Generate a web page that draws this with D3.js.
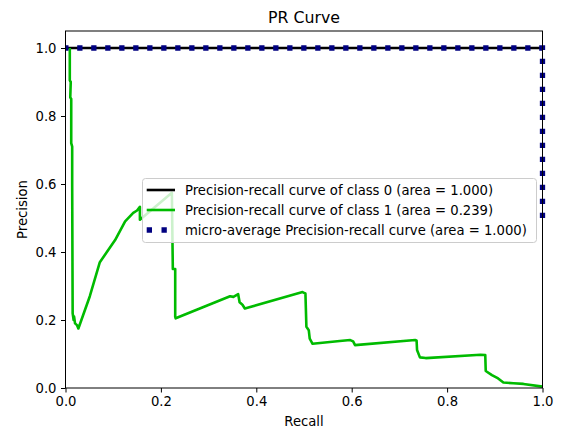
<!DOCTYPE html>
<html>
<head>
<meta charset="utf-8">
<script src="https://cdn.jsdelivr.net/npm/d3@7"></script>
<style>
  html, body { margin: 0; padding: 0; background: #fff; }
  svg { display: block; font-family: "DejaVu Sans", sans-serif; }
</style>
</head>
<body>
<svg id="chart" width="571" height="431"></svg>
<script>
// Precision-recall curves
const class0Recall    = [0.0, 1.0, 1.0];
const class0Precision = [1.0, 1.0, 0.996];

const class1Recall = [
  0.009, 0.009, 0.011, 0.010, 0.012, 0.012, 0.014, 0.014, 0.015, 0.017,
  0.018, 0.020, 0.024, 0.027, 0.051, 0.072, 0.104, 0.125, 0.142, 0.150,
  0.156, 0.156, 0.223, 0.225, 0.230, 0.230, 0.231, 0.345, 0.352, 0.362,
  0.365, 0.371, 0.376, 0.497, 0.500, 0.503, 0.505, 0.510, 0.512, 0.518,
  0.575, 0.597, 0.603, 0.607, 0.733, 0.736, 0.737, 0.743, 0.755, 0.870,
  0.880, 0.881, 0.894, 0.907, 0.918, 0.939, 0.960, 1.000
];
const class1Precision = [
  1.000, 0.905, 0.900, 0.855, 0.850, 0.720, 0.710, 0.600, 0.220, 0.200,
  0.210, 0.190, 0.185, 0.175, 0.270, 0.370, 0.435, 0.490, 0.515, 0.522,
  0.533, 0.495, 0.574, 0.350, 0.350, 0.210, 0.205, 0.270, 0.268, 0.276,
  0.252, 0.245, 0.234, 0.282, 0.280, 0.278, 0.180, 0.170, 0.145, 0.130,
  0.138, 0.141, 0.137, 0.126, 0.141, 0.140, 0.112, 0.090, 0.088, 0.098,
  0.097, 0.050, 0.038, 0.028, 0.016, 0.014, 0.012, 0.004
];

const microRecall    = [1.0, 1.0, 0.0];
const microPrecision = [0.5, 1.0, 1.0];

const xTicks = [0.0, 0.2, 0.4, 0.6, 0.8, 1.0];
const yTicks = [0.0, 0.2, 0.4, 0.6, 0.8, 1.0];

const titleText = "PR Curve";
const xLabel = "Recall";
const yLabel = "Precision";
const legendLabels = [
  "Precision-recall curve of class 0 (area = 1.000)",
  "Precision-recall curve of class 1 (area = 0.239)",
  "micro-average Precision-recall curve (area = 1.000)"
];

(function draw() {
  const svg = d3.select("#chart");
  const plotLeft = 65.5, plotRight = 542.5, plotTop = 31, plotBottom = 388;

  const x = d3.scaleLinear().domain([0, 1]).range([plotLeft, plotRight]);
  const y = d3.scaleLinear().domain([0, 1.05]).range([plotBottom, plotTop]);

  const zip = (xs, ys) => xs.map((v, i) => [v, ys[i]]);
  const line = d3.line().x(d => x(d[0])).y(d => y(d[1]));

  const tickFont = 13.2;

  // Curves
  svg.append("path")
    .datum(zip(class0Recall, class0Precision))
    .attr("d", line)
    .attr("fill", "none")
    .attr("stroke", "#000000")
    .attr("stroke-width", 2.6)
    .attr("stroke-linejoin", "round");

  svg.append("path")
    .datum(zip(class1Recall, class1Precision))
    .attr("d", line)
    .attr("fill", "none")
    .attr("stroke", "rgb(0,187,0)")
    .attr("stroke-width", 2.6)
    .attr("stroke-linejoin", "round");

  svg.append("path")
    .datum(zip(microRecall, microPrecision))
    .attr("d", line)
    .attr("fill", "none")
    .attr("stroke", "navy")
    .attr("stroke-width", 5.3)
    .attr("stroke-dasharray", "5.3,8.7")
    .attr("stroke-linecap", "butt");

  // Axes
  const xAxis = svg.append("g")
    .attr("transform", `translate(0,${plotBottom})`)
    .call(d3.axisBottom(x).tickValues(xTicks).tickFormat(d3.format(".1f"))
      .tickSize(4.5).tickPadding(4.5).tickSizeOuter(0));
  const yAxis = svg.append("g")
    .attr("transform", `translate(${plotLeft},0)`)
    .call(d3.axisLeft(y).tickValues(yTicks).tickFormat(d3.format(".1f"))
      .tickSize(4.5).tickPadding(4.5).tickSizeOuter(0));

  [xAxis, yAxis].forEach(g => {
    g.select(".domain").remove();
    g.selectAll(".tick line").attr("stroke", "#000").attr("stroke-width", 1);
    g.selectAll(".tick text")
      .attr("fill", "#000")
      .style("font-family", "DejaVu Sans")
      .style("font-size", tickFont + "px");
  });

  // Frame
  svg.append("rect")
    .attr("x", plotLeft).attr("y", plotTop)
    .attr("width", plotRight - plotLeft).attr("height", plotBottom - plotTop)
    .attr("fill", "none")
    .attr("stroke", "#000")
    .attr("stroke-width", 1);

  // Title and axis labels
  svg.append("text")
    .attr("x", (plotLeft + plotRight) / 2).attr("y", 23)
    .attr("text-anchor", "middle")
    .style("font-size", "15.8px")
    .text(titleText);

  svg.append("text")
    .attr("x", (plotLeft + plotRight) / 2).attr("y", 426)
    .attr("text-anchor", "middle")
    .style("font-size", tickFont + "px")
    .text(xLabel);

  svg.append("text")
    .attr("transform", `translate(27,${(plotTop + plotBottom) / 2}) rotate(-90)`)
    .attr("text-anchor", "middle")
    .style("font-size", tickFont + "px")
    .text(yLabel);

  // Legend
  const legend = svg.append("g");
  const lx = 142.5, ly = 178.5, lw = 394, lh = 64;
  legend.append("rect")
    .attr("x", lx).attr("y", ly)
    .attr("width", lw).attr("height", lh)
    .attr("rx", 3).attr("ry", 3)
    .attr("fill", "#fff").attr("fill-opacity", 0.8)
    .attr("stroke", "#cccccc").attr("stroke-width", 1);

  const handleStyles = [
    { color: "#000000", width: 2.6, dash: null, end: 175 },
    { color: "rgb(0,187,0)", width: 2.6, dash: null, end: 175 },
    { color: "navy", width: 5.3, dash: "5.3,9.5", end: 172 }
  ];
  legendLabels.forEach((label, i) => {
    const cy = 190 + i * 20;
    const st = handleStyles[i];
    const h = legend.append("line")
      .attr("x1", 146.7).attr("x2", st.end)
      .attr("y1", cy).attr("y2", cy)
      .attr("stroke", st.color)
      .attr("stroke-width", st.width);
    if (st.dash) h.attr("stroke-dasharray", st.dash).attr("stroke-linecap", "butt");
    legend.append("text")
      .attr("x", 185).attr("y", cy)
      .attr("dy", "0.36em")
      .style("font-size", tickFont + "px")
      .text(label);
  });
})();
</script>
</body>
</html>
